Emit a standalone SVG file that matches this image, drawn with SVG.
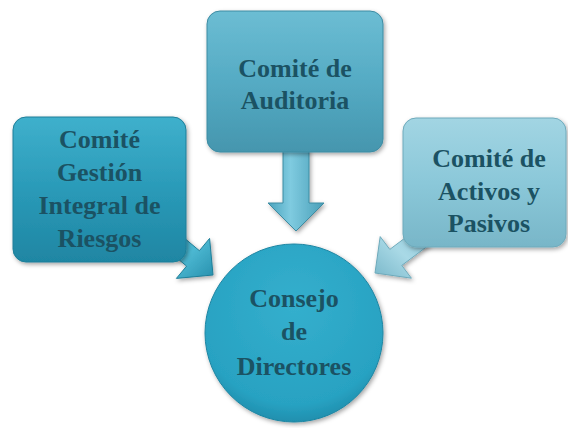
<svg xmlns="http://www.w3.org/2000/svg" width="568" height="428" viewBox="0 0 568 428">
<style>
.t{font-family:"Liberation Serif","DejaVu Serif",serif;font-weight:bold;font-size:26px;fill:#1b5263;text-anchor:middle}
.edge{stroke-width:1}
</style>
<defs>
<linearGradient id="gL" x1="0" y1="0" x2="0" y2="1"><stop offset="0" stop-color="#3fb0cc"/><stop offset="0.5" stop-color="#2a9ab8"/><stop offset="1" stop-color="#1f86a3"/></linearGradient>
<linearGradient id="gT" x1="0" y1="0" x2="0" y2="1"><stop offset="0" stop-color="#6cbdd3"/><stop offset="0.5" stop-color="#55abc4"/><stop offset="1" stop-color="#4596ae"/></linearGradient>
<linearGradient id="gR" x1="0" y1="0" x2="0" y2="1"><stop offset="0" stop-color="#a2d5e3"/><stop offset="0.5" stop-color="#8bc8d9"/><stop offset="1" stop-color="#78b6c8"/></linearGradient>
<radialGradient id="gC" cx="0.5" cy="0.35" r="0.65"><stop offset="0" stop-color="#34afcd"/><stop offset="0.85" stop-color="#28a2c2"/><stop offset="1" stop-color="#1f8fae"/></radialGradient>
<linearGradient id="aL" x1="0" y1="0" x2="1" y2="1"><stop offset="0" stop-color="#2a9ab8"/><stop offset="0.5" stop-color="#4cb8d2"/><stop offset="1" stop-color="#2890ad"/></linearGradient>
<linearGradient id="aT" x1="0" y1="0" x2="1" y2="0"><stop offset="0" stop-color="#4aa3bd"/><stop offset="0.4" stop-color="#7fcbe0"/><stop offset="1" stop-color="#4a9fb8"/></linearGradient>
<linearGradient id="aR" x1="1" y1="0" x2="0" y2="1"><stop offset="0" stop-color="#8ac6d7"/><stop offset="0.5" stop-color="#a9d9e6"/><stop offset="1" stop-color="#7ab8ca"/></linearGradient>
<filter id="sh" x="-10%" y="-10%" width="130%" height="130%"><feDropShadow dx="1.5" dy="2" stdDeviation="2" flood-color="#000" flood-opacity="0.35"/></filter>
</defs>
<g id="connectors">
<polygon class="edge" fill="url(#aL)" stroke="#1f7f99" points="163.6,246.9 176.4,231.5 199.4,250.7 209.6,238.4 213,275 176.4,278.4 186.6,266.1" filter="url(#sh)"/>
<polygon class="edge" fill="url(#aT)" stroke="#3d8ca3" points="283,148 309,148 309,203 324,203 296,231 268,203 283,203" filter="url(#sh)"/>
<polygon class="edge" fill="url(#aR)" stroke="#6eaabb" points="429.8,244.4 417.8,228.4 389.8,249.4 380.2,236.6 375,273 411.4,278.2 401.8,265.4" filter="url(#sh)"/>
</g>
<g id="n-riesgos">
<rect x="13" y="117" width="173" height="145" rx="13" fill="url(#gL)" stroke="#1f7f99" filter="url(#sh)"/>
<text class="t" x="99.5" y="148">Comité</text>
<text class="t" x="99.5" y="181">Gestión</text>
<text class="t" x="99.5" y="214">Integral de</text>
<text class="t" x="99.5" y="247">Riesgos</text>
</g>
<g id="n-auditoria">
<rect x="207" y="11" width="176" height="141" rx="13" fill="url(#gT)" stroke="#3d8ca3" filter="url(#sh)"/>
<text class="t" x="295" y="77">Comité de</text>
<text class="t" x="295" y="109">Auditoria</text>
</g>
<g id="n-activos">
<rect x="403" y="118" width="163" height="129" rx="13" fill="url(#gR)" stroke="#6eaabb" filter="url(#sh)"/>
<text class="t" x="489" y="167">Comité de</text>
<text class="t" x="489" y="200">Activos y</text>
<text class="t" x="489" y="232">Pasivos</text>
</g>
<g id="n-consejo">
<circle cx="294" cy="333" r="89" fill="url(#gC)" stroke="#1f86a3" filter="url(#sh)"/>
<text class="t" x="294" y="307">Consejo</text>
<text class="t" x="294" y="340">de</text>
<text class="t" x="294" y="375">Directores</text>
</g>
</svg>
